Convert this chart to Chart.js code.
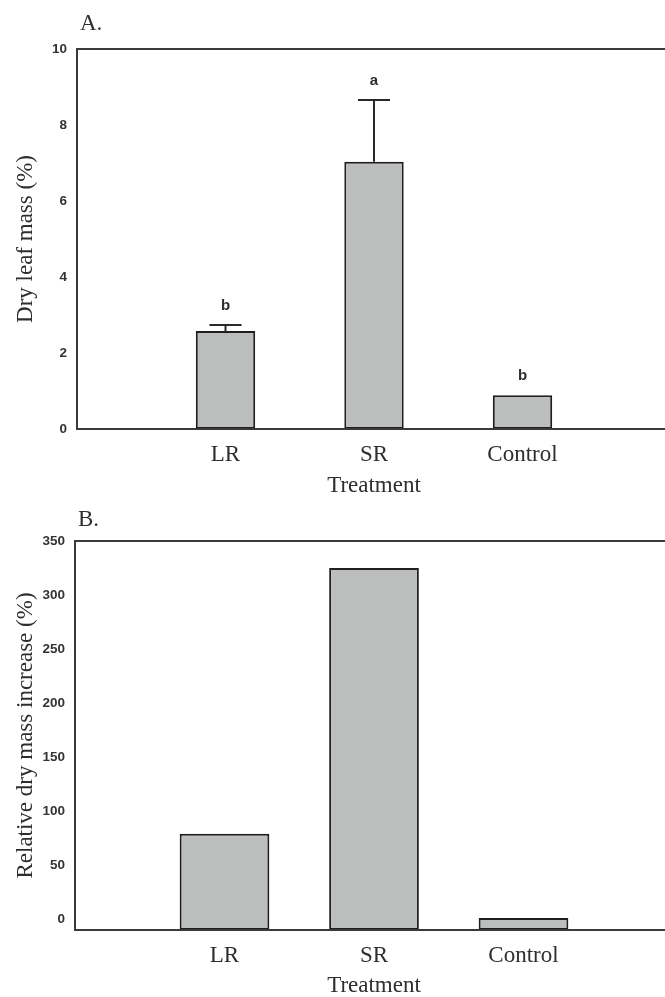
<!DOCTYPE html>
<html>
<head>
<meta charset="utf-8">
<script src="https://cdn.jsdelivr.net/npm/chart.js@4.4.1/dist/chart.umd.min.js"></script>
<style>
  html, body { margin: 0; padding: 0; background: #fff; overflow: hidden; }
  #wrap { position: relative; width: 665px; height: 997px; overflow: hidden; background: #fff; }
  canvas { position: absolute; left: 0; }
  #cA { top: 0; }
  #cB { top: 500px; }
</style>
</head>
<body>
<div id="wrap">
  <canvas id="cA" width="683" height="500"></canvas>
  <canvas id="cB" width="685" height="500"></canvas>
</div>
<script>
// ---- data ----
const categories = ['LR', 'SR', 'Control'];
const dryLeafMass = [2.58, 7.03, 0.89];      // panel A, %
const dryLeafErr = [0.16, 1.63, 0];          // panel A, error bar heights
const sigLetters = ['b', 'a', 'b'];          // significance letters, panel A
const relIncrease = [79, 325, 1];            // panel B, %
const yTicksA = [0, 2, 4, 6, 8, 10];
const yTicksB = [0, 50, 100, 150, 200, 250, 300, 350];
const yRangeA = { min: 0, max: 10 };
const yRangeB = { min: -10, max: 350 };
const panelTitles = ['A.', 'B.'];
const yTitleA = 'Dry leaf mass (%)';
const yTitleB = 'Relative dry mass increase (%)';
const xTitle = 'Treatment';

// ---- styles ----
const SERIF = '"Liberation Serif", "DejaVu Serif", serif';
const SANS = '"Liberation Sans", Arial, sans-serif';
const TXT = '#2e2e2e';
const AXIS = '#3a3a3a';
const BAR_FILL = '#bcbebe';
const BAR_EDGE = '#1e1e1e';

// labels padded with empty slots so the axis spans 0..4
const paddedLabels = [''].concat(categories, ['']);
function pad(arr) { return [null].concat(arr, [null]); }

const framePlugin = {
  id: 'frame',
  afterDatasetsDraw(chart, args, opts) {
    const { ctx, chartArea: a } = chart;
    ctx.save();
    ctx.strokeStyle = AXIS;
    ctx.lineWidth = 2;
    ctx.beginPath();
    ctx.moveTo(a.left, a.bottom);
    ctx.lineTo(a.left, a.top);
    ctx.lineTo(a.right + 5, a.top);
    ctx.moveTo(a.left - 1, a.bottom);
    ctx.lineTo(a.right + 5, a.bottom);
    ctx.stroke();
    // panel title
    ctx.fillStyle = TXT;
    ctx.font = '23px ' + SERIF;
    ctx.textAlign = 'left';
    ctx.textBaseline = 'alphabetic';
    ctx.fillText(opts.title, a.left + 3, opts.titleY);
    ctx.restore();
  }
};

const errorPlugin = {
  id: 'errbars',
  afterDatasetsDraw(chart, args, opts) {
    if (!opts.err) return;
    const { ctx } = chart;
    const meta = chart.getDatasetMeta(0);
    const y = chart.scales.y;
    ctx.save();
    meta.data.forEach((bar, i) => {
      const k = i - 1;
      if (k < 0 || k >= categories.length) return;
      const v = dryLeafMass[k], e = opts.err[k];
      const top = y.getPixelForValue(v + e);
      const capHalf = bar.width * 0.27;
      if (e > 0) {
        ctx.strokeStyle = '#2a2a2a';
        ctx.lineWidth = 2;
        ctx.beginPath();
        ctx.moveTo(bar.x, y.getPixelForValue(v));
        ctx.lineTo(bar.x, top);
        ctx.moveTo(bar.x - capHalf, top);
        ctx.lineTo(bar.x + capHalf, top);
        ctx.stroke();
      }
      ctx.fillStyle = TXT;
      ctx.font = 'bold 15px ' + SANS;
      ctx.textAlign = 'center';
      ctx.textBaseline = 'alphabetic';
      ctx.fillText(sigLetters[k], bar.x, top - 15);
    });
    ctx.restore();
  }
};

function makeChart(id, values, yr, tickVals, yTitle, barPct, axisW, axisH, padTop, title, titleY, err) {
  return new Chart(document.getElementById(id), {
    type: 'bar',
    data: {
      labels: paddedLabels,
      datasets: [{
        data: pad(values),
        base: yr.min,
        backgroundColor: BAR_FILL,
        borderColor: BAR_EDGE,
        borderWidth: 2,
        borderSkipped: false,
        categoryPercentage: 1,
        barPercentage: barPct
      }]
    },
    options: {
      responsive: false,
      animation: false,
      devicePixelRatio: 1,
      layout: { padding: { top: padTop, left: 0, right: 0, bottom: 0 } },
      plugins: {
        legend: { display: false },
        tooltip: { enabled: false },
        frame: { title: title, titleY: titleY },
        errbars: { err: err }
      },
      scales: {
        x: {
          offset: false,
          grid: { display: false, drawTicks: false },
          border: { display: false },
          ticks: {
            padding: 12,
            color: TXT,
            font: { family: SERIF, size: 23 },
            maxRotation: 0,
            autoSkip: false
          },
          title: {
            display: true,
            text: xTitle,
            color: TXT,
            font: { family: SERIF, size: 23 },
            padding: { top: 0, bottom: 0 }
          },
          afterFit(s) { s.height = axisH; }
        },
        y: {
          min: yr.min,
          max: yr.max,
          grid: { display: false, drawTicks: false },
          border: { display: false },
          afterBuildTicks(s) { s.ticks = tickVals.map(v => ({ value: v })); },
          ticks: {
            padding: 10,
            color: '#333',
            font: { family: SANS, size: 13.5, weight: 'bold' },
            callback: (v) => String(v)
          },
          title: {
            display: true,
            text: yTitle,
            color: TXT,
            font: { family: SERIF, size: 23 },
            padding: { top: 12, bottom: 0 }
          },
          afterFit(s) { s.width = axisW; }
        }
      }
    },
    plugins: [framePlugin, errorPlugin]
  });
}

makeChart('cA', dryLeafMass, yRangeA, yTicksA, yTitleA, 0.4, 77, 71, 49, panelTitles[0], 30, dryLeafErr);
makeChart('cB', relIncrease, yRangeB, yTicksB, yTitleB, 0.6, 75, 70, 41, panelTitles[1], 26, null);
</script>
</body>
</html>
